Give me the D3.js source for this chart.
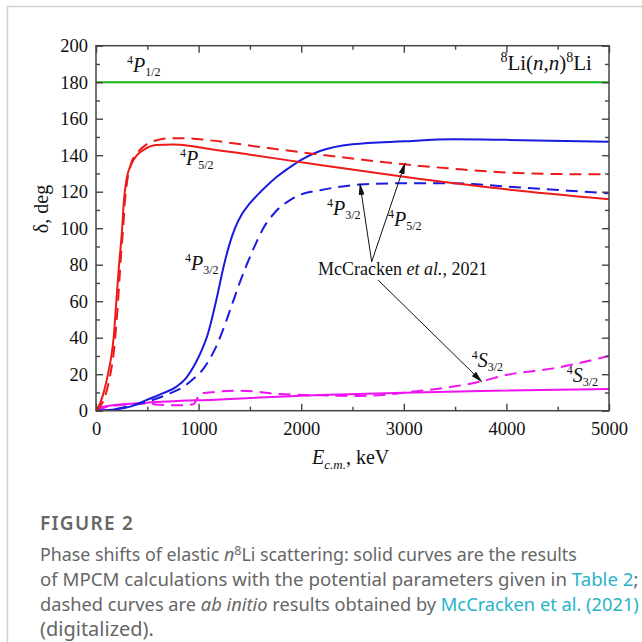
<!DOCTYPE html>
<html>
<head>
<meta charset="utf-8">
<script src="https://cdn.jsdelivr.net/npm/d3@7"></script>
<style>
    body { margin: 0; background: #fff; }
    svg { display: block; }
    .serif { font-family: "Liberation Serif", "Times New Roman", serif; fill: #111; }
    .axis text { font-family: "Liberation Serif", "Times New Roman", serif; font-size: 18.5px; fill: #111; }
    .axis line { stroke: #444; stroke-width: 1.4; }
    .axis path { display: none; }
    .caption { font-family: "Noto Sans", "Open Sans", sans-serif; fill: #666; }
</style>
</head>
<body>
<div id="figure"></div>
<script>
// ---------------------------------------------------------------------------
// Data: [E c.m. (keV), phase shift (deg)]
// ---------------------------------------------------------------------------
var p12Solid = [[0, 180], [5000, 180]];

var p52Solid = [[0, 0], [40, 4], [80, 11], [120, 21], [150, 30], [172, 40], [198, 60], [222, 78],
    [255, 100], [272, 115], [295, 126], [348, 135.5], [400, 140], [460, 142.8], [590, 145.6],
    [750, 145.8], [900, 145.2], [1060, 143.8], [1500, 140.3], [2183, 134.6], [3000, 128.2],
    [4000, 121.3], [5000, 115.8]];

var p52Dashed = [[0, 0], [60, 4], [100, 10], [140, 20], [175, 33], [195, 45], [215, 60], [232, 75],
    [250, 90], [265, 100], [282, 115], [302, 125], [340, 135], [400, 141], [507, 146.5], [600, 148.3],
    [700, 149.2], [850, 149.3], [1100, 148.2], [1600, 144.5], [2183, 140.3], [2600, 137.5],
    [3000, 135], [3500, 132.5], [4000, 130.5], [4500, 129.7], [5000, 129.5]];

var p32Solid = [[0, 0], [200, 0.8], [350, 2.5], [494, 5.9], [650, 9.5], [786, 13.2], [880, 18],
    [960, 25], [1030, 33], [1090, 42], [1170, 60], [1248, 80], [1300, 91], [1355, 100],
    [1420, 107.5], [1490, 113], [1570, 118], [1660, 123], [1760, 128], [1880, 133],
    [2000, 137.5], [2183, 142.3], [2500, 146], [3000, 147.6], [3483, 148.7], [4000, 148.4],
    [5000, 147.4]];

var p32Dashed = [[0, 0], [150, 0.5], [299, 2.2], [494, 4.9], [721, 9.5], [850, 13], [950, 17.5],
    [1040, 22.5], [1110, 28.5], [1170, 35], [1215, 41], [1275, 50], [1337, 60], [1400, 70],
    [1469, 80], [1545, 90], [1631, 100], [1750, 109], [1891, 115.4], [2000, 118.5],
    [2183, 120.8], [2573, 123.9], [3000, 124.6], [3483, 124.6], [4000, 122.8], [5000, 119.1]];

var s32Solid = [[0, 0.5], [30, 1.5], [71, 2.2], [200, 3.2], [494, 4.4], [1209, 6.2], [2183, 8.6],
    [3000, 9.9], [4000, 11], [5000, 11.9]];

var s32Dashed = [[0, 0], [100, 2], [234, 3.1], [400, 3.8], [500, 4], [624, 3.2], [800, 3],
    [949, 3.5], [980, 6], [1014, 9.5], [1079, 9.8], [1176, 10.4], [1404, 11], [1793, 9.1],
    [2183, 8.4], [2573, 8.1], [2895, 9.1], [3000, 9.9], [3483, 13.2], [3743, 15.9], [4000, 19.6],
    [4457, 23.2], [5000, 30]];

// state labels: superscript, letter, subscript, anchor [E, deg]
var stateLabels = [
    { sup: "4", letter: "P", sub: "1/2", at: [302, 185.8] },
    { sup: "4", letter: "P", sub: "5/2", at: [819, 134.6] },
    { sup: "4", letter: "P", sub: "3/2", at: [867, 77] },
    { sup: "4", letter: "P", sub: "3/2", at: [2251, 107.2] },
    { sup: "4", letter: "P", sub: "5/2", at: [2846, 101.2] },
    { sup: "4", letter: "S", sub: "3/2", at: [3662, 24.1] },
    { sup: "4", letter: "S", sub: "3/2", at: [4588, 15.9] }
];

// arrows from the McCracken label: [from, to]
var arrows = [
    [[2687, 81.6], [2573, 124.2]],
    [[2687, 81.6], [3012, 135.6]],
    [[2749, 71.6], [3760, 15.9]]
];

var xTicks = [0, 1000, 2000, 3000, 4000, 5000];
var yTicks = [0, 20, 40, 60, 80, 100, 120, 140, 160, 180, 200];

var captionLines = [
    [{ t: "Phase shifts of elastic " }, { t: "n", i: true }, { t: "8", sup: true }, { t: "Li scattering: solid curves are the results", down: true }],
    [{ t: "of MPCM calculations with the potential parameters given in " }, { t: "Table 2", link: true }, { t: ";" }],
    [{ t: "dashed curves are " }, { t: "ab initio", i: true }, { t: " results obtained by " }, { t: "McCracken et al. (2021)", link: true }],
    [{ t: "(digitalized)." }]
];
var captionWidths = [537, 599, 599, 114];

(function (d3) {
    "use strict";

    var W = 642, H = 642;
    var plot = { left: 96, right: 609, top: 45.7, bottom: 410.7 };

    var svg = d3.select("#figure").append("svg")
        .attr("width", W)
        .attr("height", H);

    // outer frame (light gray, left and top)
    svg.append("path")
        .attr("d", "M7.5," + H + "V6.5H" + W)
        .attr("fill", "none")
        .attr("stroke", "#cfcfcf")
        .attr("stroke-width", 1.5);

    var xScale = d3.scaleLinear().domain([0, 5000]).range([plot.left, plot.right]);
    var yScale = d3.scaleLinear().domain([0, 200]).range([plot.bottom, plot.top]);

    var defs = svg.append("defs");
    defs.append("clipPath")
        .attr("id", "clip")
        .append("rect")
        .attr("x", plot.left).attr("y", plot.top)
        .attr("width", plot.right - plot.left)
        .attr("height", plot.bottom - plot.top);

    defs.append("marker")
        .attr("id", "arrow")
        .attr("markerUnits", "userSpaceOnUse")
        .attr("markerWidth", 12).attr("markerHeight", 6)
        .attr("refX", 11).attr("refY", 3)
        .attr("orient", "auto")
        .append("path")
        .attr("d", "M0,0 L12,3 L0,6 Z")
        .attr("fill", "#111");

    // -----------------------------------------------------------------------
    // ------------------------------ Curves ---------------------------------
    // -----------------------------------------------------------------------
    var curves = [
        { data: p12Solid, color: "#14b414", dash: null },
        { data: s32Solid, color: "#f012f0", dash: null },
        { data: s32Dashed, color: "#f012f0", dash: "12,7" },
        { data: p32Dashed, color: "#1a1ae0", dash: "12,7" },
        { data: p32Solid, color: "#1a1ae0", dash: null },
        { data: p52Dashed, color: "#ee1a1a", dash: "12,7" },
        { data: p52Solid, color: "#ee1a1a", dash: null }
    ];

    var line = d3.line()
        .x(function (d) { return xScale(d[0]); })
        .y(function (d) { return yScale(d[1]); })
        .curve(d3.curveMonotoneX);

    var curveGroup = svg.append("g").attr("clip-path", "url(#clip)");
    curves.forEach(function (c) {
        curveGroup.append("path")
            .datum(c.data)
            .attr("d", line)
            .attr("fill", "none")
            .attr("stroke", c.color)
            .attr("stroke-width", 2)
            .attr("stroke-dasharray", c.dash);
    });

    // -----------------------------------------------------------------------
    // ------------------------------- Axes ----------------------------------
    // -----------------------------------------------------------------------
    var minorX = d3.range(500, 5000, 1000);
    var minorY = d3.range(10, 200, 20);
    var fmt = d3.format("d");

    function addAxis(axis, tx, ty) {
        return svg.append("g")
            .attr("class", "axis")
            .attr("transform", "translate(" + tx + "," + ty + ")")
            .call(axis);
    }

    addAxis(d3.axisBottom(xScale).tickValues(xTicks).tickSize(-7).tickPadding(11).tickFormat(fmt), 0, plot.bottom);
    addAxis(d3.axisBottom(xScale).tickValues(minorX).tickSize(-4).tickFormat(""), 0, plot.bottom);
    addAxis(d3.axisTop(xScale).tickValues(xTicks).tickSize(-7).tickFormat(""), 0, plot.top);
    addAxis(d3.axisTop(xScale).tickValues(minorX).tickSize(-4).tickFormat(""), 0, plot.top);
    addAxis(d3.axisLeft(yScale).tickValues(yTicks).tickSize(-7).tickPadding(8).tickFormat(fmt), plot.left, 0);
    addAxis(d3.axisLeft(yScale).tickValues(minorY).tickSize(-4).tickFormat(""), plot.left, 0);
    addAxis(d3.axisRight(yScale).tickValues(yTicks).tickSize(-7).tickFormat(""), plot.right, 0);
    addAxis(d3.axisRight(yScale).tickValues(minorY).tickSize(-4).tickFormat(""), plot.right, 0);

    svg.append("rect")
        .attr("x", plot.left).attr("y", plot.top)
        .attr("width", plot.right - plot.left)
        .attr("height", plot.bottom - plot.top)
        .attr("fill", "none")
        .attr("stroke", "#444")
        .attr("stroke-width", 1.5);

    // axis titles
    svg.append("text")
        .attr("class", "serif")
        .attr("transform", "translate(48,209)rotate(-90)")
        .attr("text-anchor", "middle")
        .attr("font-size", 20)
        .text("\u03b4, deg");

    var xt = svg.append("text")
        .attr("class", "serif")
        .attr("x", 312).attr("y", 464)
        .attr("font-size", 20);
    xt.append("tspan").attr("font-style", "italic").text("E");
    xt.append("tspan").attr("font-style", "italic").attr("font-size", 13).attr("dy", 5).text("c.m.");
    xt.append("tspan").attr("font-size", 20).attr("dy", -5).text(", keV");

    // -----------------------------------------------------------------------
    // ---------------------------- Annotations ------------------------------
    // -----------------------------------------------------------------------
    stateLabels.forEach(function (s) {
        var t = svg.append("text")
            .attr("class", "serif")
            .attr("x", xScale(s.at[0]))
            .attr("y", yScale(s.at[1]))
            .attr("font-size", 20);
        t.append("tspan").attr("font-size", 12).attr("dy", -8).text(s.sup);
        t.append("tspan").attr("font-style", "italic").attr("dy", 8).text(s.letter);
        t.append("tspan").attr("font-size", 12).attr("dy", 4).text(s.sub);
    });

    var title = svg.append("text")
        .attr("class", "serif")
        .attr("x", xScale(4834))
        .attr("y", yScale(186.7))
        .attr("text-anchor", "end")
        .attr("font-size", 21);
    title.append("tspan").attr("font-size", 14).attr("dy", -8).text("8");
    title.append("tspan").attr("dy", 8).text("Li(");
    title.append("tspan").attr("font-style", "italic").text("n");
    title.append("tspan").text(",");
    title.append("tspan").attr("font-style", "italic").text("n");
    title.append("tspan").text(")");
    title.append("tspan").attr("font-size", 14).attr("dy", -8).text("8");
    title.append("tspan").attr("dy", 8).text("Li");

    var mc = svg.append("text")
        .attr("class", "serif")
        .attr("x", xScale(2164))
        .attr("y", yScale(74.4))
        .attr("font-size", 18);
    mc.append("tspan").text("McCracken ");
    mc.append("tspan").attr("font-style", "italic").text("et al.");
    mc.append("tspan").text(", 2021");

    arrows.forEach(function (a) {
        svg.append("line")
            .attr("x1", xScale(a[0][0])).attr("y1", yScale(a[0][1]))
            .attr("x2", xScale(a[1][0])).attr("y2", yScale(a[1][1]))
            .attr("stroke", "#111")
            .attr("stroke-width", 1)
            .attr("marker-end", "url(#arrow)");
    });

    // -----------------------------------------------------------------------
    // ------------------------------ Caption --------------------------------
    // -----------------------------------------------------------------------
    svg.append("text")
        .attr("class", "caption")
        .attr("x", 40).attr("y", 530)
        .attr("font-size", 19)
        .attr("font-weight", 600)
        .attr("fill", "#5a5a5a")
        .attr("letter-spacing", 1.3)
        .text("FIGURE 2");

    var base = 16;
    captionLines.forEach(function (parts, i) {
        var t = svg.append("text")
            .attr("class", "caption")
            .attr("x", 40)
            .attr("y", 561 + i * 25)
            .attr("font-size", base);
        parts.forEach(function (p) {
            var ts = t.append("tspan").text(p.t);
            if (p.i) ts.attr("font-style", "italic");
            if (p.link) ts.style("fill", "#27b4c8");
            if (p.sup) ts.attr("font-size", "0.7em").attr("dy", "-0.45em");
            if (p.down) ts.attr("dy", "0.315em");
        });
        // fit each line to the width it has in the figure
        var w = t.node().getComputedTextLength();
        t.attr("font-size", base * captionWidths[i] / w);
    });

})(d3);
</script>
</body>
</html>
